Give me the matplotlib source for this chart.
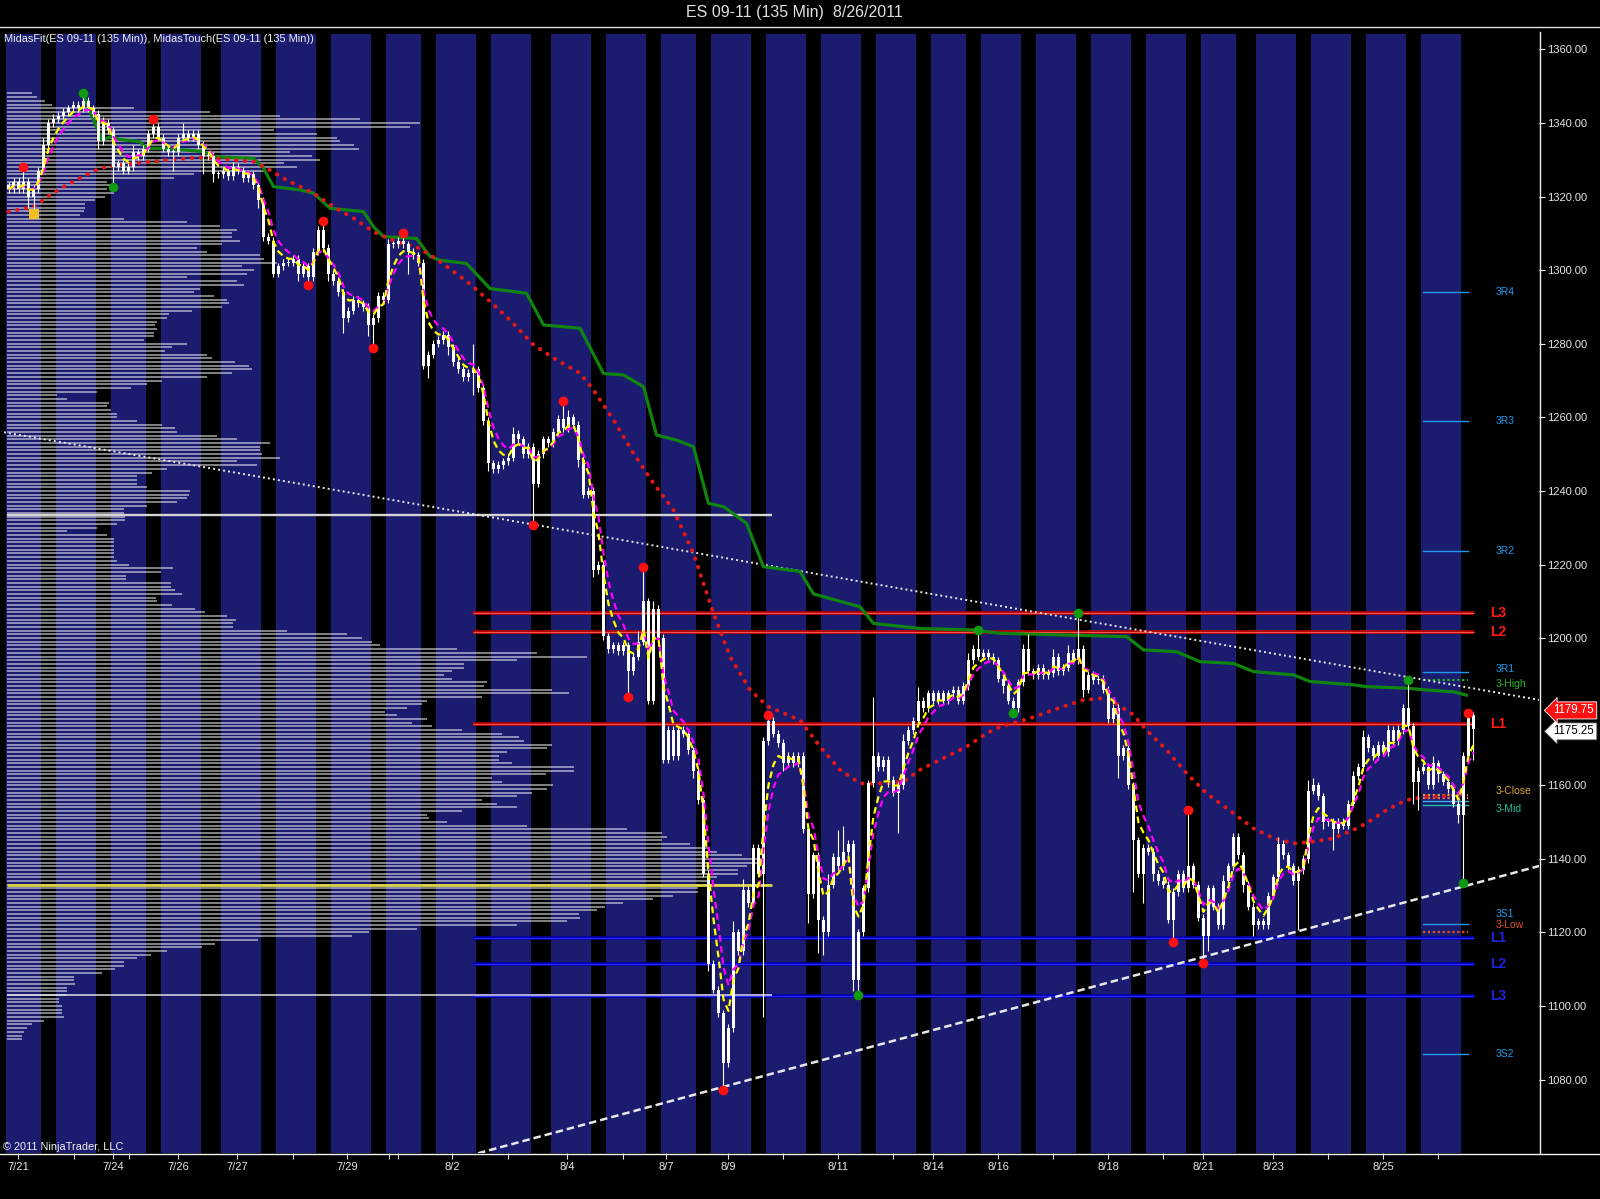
import numpy as np
import pandas as pd
import matplotlib
matplotlib.use("Agg")
import matplotlib.pyplot as plt
from matplotlib.lines import Line2D

plt.rcParams['font.family'] = ['Liberation Sans', 'DejaVu Sans']

# ---------------- data ----------------
title = "ES 09-11 (135 Min)  8/26/2011"
indicator_text = "MidasFit(ES 09-11 (135 Min)), MidasTouch(ES 09-11 (135 Min))"
copyright_text = "\u00a9 2011 NinjaTrader, LLC"

# 135 min bars, 7/21 .. 8/26
first_open = 1323
closes = [
    1322, 1324, 1322, 1324, 1320, 1322, 1327, 1334, 1340, 1341,
    1342, 1343, 1344, 1345, 1344, 1346, 1344, 1342.5, 1335, 1340,
    1338, 1328, 1329, 1327, 1328, 1332, 1331, 1333, 1337, 1339,
    1336, 1333, 1332, 1332, 1336, 1337, 1336, 1337, 1334, 1331,
    1331, 1326, 1326, 1327, 1325.5, 1328, 1327, 1325, 1326, 1323,
    1319, 1309, 1308, 1299, 1301, 1302, 1302, 1303, 1299, 1301,
    1298, 1305, 1311, 1306, 1299, 1297, 1294, 1287, 1289, 1292,
    1291, 1290, 1285, 1287, 1293, 1292, 1307, 1307, 1308, 1307,
    1305, 1304, 1302, 1274, 1277, 1280, 1281, 1282.5, 1279, 1275,
    1273, 1271, 1272, 1273, 1268, 1259, 1247.5, 1246, 1247, 1248,
    1249, 1255.5, 1254, 1250, 1252, 1242, 1250, 1254, 1253, 1256,
    1259.5, 1257, 1260, 1258, 1248.5, 1239, 1240, 1218.5, 1220, 1200.5,
    1197, 1198, 1196.5, 1198, 1191, 1195, 1199, 1210, 1183, 1208,
    1200, 1167, 1175, 1168, 1175, 1174, 1169.5, 1164, 1156, 1136,
    1111.5, 1104.5, 1098, 1084.5, 1094, 1120, 1115, 1131.5, 1128, 1143,
    1136, 1172, 1177.5, 1174, 1171.5, 1166, 1168, 1166, 1168, 1148,
    1130.5, 1141, 1123.5, 1120, 1133, 1140.5, 1138, 1142, 1144, 1107,
    1120, 1132, 1160.5, 1168, 1165, 1167, 1161.5, 1158, 1160, 1172,
    1175, 1177.5, 1183, 1181, 1185, 1183, 1185, 1183, 1185, 1186,
    1183, 1187, 1194, 1197, 1195, 1196, 1195, 1194, 1189, 1187,
    1183, 1181, 1188, 1197, 1191, 1190, 1192, 1190, 1190.5, 1195,
    1191, 1192, 1196, 1194, 1197, 1186, 1190, 1188.5, 1189, 1186,
    1178, 1181, 1168, 1170, 1160, 1145, 1136, 1143, 1142, 1136,
    1134, 1133, 1123.5, 1131, 1136, 1132, 1138, 1133, 1124, 1119,
    1132, 1127, 1122, 1134, 1138, 1146, 1141, 1133, 1127, 1122,
    1123, 1122, 1130, 1135, 1144, 1141, 1138, 1134, 1137, 1140,
    1158.5, 1160, 1157, 1150, 1150, 1148, 1150, 1149, 1155, 1162.5,
    1165, 1173, 1170, 1168, 1171, 1169, 1175, 1172, 1175, 1181,
    1176, 1161, 1164, 1165, 1160, 1166, 1163, 1161, 1159, 1155,
    1152, 1168, 1179, 1175.25,
]
# wick length above / below the candle body (points)
wick_up = [
    1, 1, 1, 4, 1, 1, 1, 2, 1, 1.5,
    1, 1, 1, 1, 1, 2, 1, 1, 1, 1.5,
    1, 1, 1, 1, 1, 2, 1, 1, 1, 2,
    1, 1, 1, 1, 1, 3, 1, 1, 1, 1,
    1, 1, 1, 1, 1, 1.5, 1, 1, 1, 1,
    1, 1, 1, 1, 1, 1, 1, 1, 1, 1,
    1, 1, 1, 2.4, 1, 1, 1, 1, 1, 1,
    1, 1, 1, 1, 1, 1, 1.5, 1, 1, 2.2,
    1, 1, 1, 1, 1, 1, 1, 1, 1, 1,
    1, 1, 1, 7, 1, 1, 1, 1, 1, 1,
    1, 2, 1, 1, 1, 1, 1, 1, 1, 1,
    1, 5, 2, 1, 1, 1, 1, 1, 1, 1,
    1, 1, 1, 1, 1, 1, 3, 9.2, 1, 2,
    1, 1, 1, 1, 1, 1, 1, 1, 1, 1,
    1, 1, 1, 1, 1, 3, 1, 3, 1, 1,
    1, 1, 1.6, 1, 1, 1, 1, 1, 1, 1,
    1, 1, 1, 1, 3, 1, 7.4, 7, 1, 1,
    1, 1, 1, 16, 1, 1, 1, 1, 1, 2,
    1, 1, 3.8, 1, 1, 1, 1, 1, 1, 1,
    1, 1, 2, 1, 5.2, 1, 1, 1, 1, 1,
    1, 1, 1, 1.5, 4, 1, 1, 1, 1, 2,
    1, 1, 2, 1, 9.9, 1, 1, 1, 1, 1,
    1, 1, 1, 1, 1, 1, 1, 1, 1, 1,
    1, 1, 1, 1, 1, 1, 15.3, 1, 1, 1,
    1, 1, 1, 1.5, 1, 1, 1, 1, 1, 1,
    1, 1, 1, 1, 2, 1, 1, 1, 1, 1,
    3, 2, 1, 1, 1, 1, 1, 1, 1, 1.5,
    1, 2, 1, 1, 1, 1, 1.5, 1, 1.5, 1,
    7.6, 1, 1, 1, 1, 2, 1, 1, 1, 1,
    1, 1, 0.75, 1,
]
wick_dn = [
    1, 1, 1, 1, 3, 4.8, 1, 1, 1, 1,
    1, 1, 1, 1, 1, 1, 1, 1, 2, 1,
    1, 5.5, 1, 1, 1, 1, 1, 1, 1, 1,
    1, 1, 1, 5, 1, 1, 1, 1, 1, 5,
    1, 2, 1, 1, 1, 1, 1, 1, 1, 1,
    2, 1, 1, 1, 1, 1, 1, 1, 2, 1,
    2, 1, 1, 1, 2, 1, 1, 4, 1, 1,
    1, 1, 3, 6.2, 1, 1, 1, 1, 1, 1,
    6, 1, 1, 1, 3.4, 1, 1, 1, 2, 1,
    1, 1, 1, 6, 1, 1, 2, 1, 1, 1,
    1, 1, 1, 1, 1, 11.3, 1, 1, 1, 1,
    1, 1, 1, 1, 2, 1, 1, 2, 1, 1,
    1, 1, 1, 1, 6.9, 1, 1, 1, 1, 1,
    1, 1, 1, 1, 1, 1, 1, 2, 1, 1,
    2, 1, 1, 7.3, 1, 1, 1, 1, 1, 1,
    1, 39, 1, 1, 1, 2, 1, 1, 1, 1,
    8, 1, 9.2, 6, 1, 1, 1, 1, 1, 3,
    4, 1, 1, 1, 1, 1, 2, 1, 11, 1,
    1, 1, 1, 1, 1, 1, 1, 1, 1, 1,
    1, 1, 1, 1, 1, 1, 1, 1, 1, 2,
    1, 1.4, 1, 1, 1, 1, 1, 1, 1, 1,
    1, 1, 1, 1, 1, 2, 1, 1, 1, 1,
    1, 1, 6, 1, 1, 14, 1, 8, 1, 2,
    1, 1, 1, 6, 1, 1, 1, 1, 1, 7.4,
    4, 1, 1, 1, 1, 1, 1, 2, 1, 3,
    1, 1, 1, 1, 1, 1, 1, 1, 13.3, 1,
    1, 1, 1, 2, 1, 5.6, 1, 1, 1, 1,
    1, 1, 1, 1, 1, 1, 1, 1, 1, 1,
    1, 6, 7.7, 1, 1, 1, 2, 1, 1, 1,
    2.3, 18.6, 1, 8.25,
]

# session shading: (first bar, first bar after)
session_bands = [
    (0, 7), (10, 18), (21, 28), (31, 39), (43, 51), (54, 62), (65, 73),
    (76, 83), (86, 94), (97, 105), (109, 117), (120, 128), (131, 138),
    (141, 149), (152, 160), (163, 171), (174, 182), (185, 192), (195, 203),
    (206, 214), (217, 225), (228, 236), (239, 246), (250, 258), (261, 269),
    (272, 280), (283, 291),
]

date_labels = ["7/21", "7/24", "7/26", "7/27", "7/29", "8/2", "8/4", "8/7",
               "8/9", "8/11", "8/14", "8/16", "8/18", "8/21", "8/23", "8/25"]
date_pos = [1.9, 20.9, 33.9, 45.8, 67.7, 88.8, 111.8, 131.5,
            143.9, 165.9, 184.9, 198, 219.9, 238.9, 252.9, 274.9]
minor_pos = [13.1, 24.1, 56.9, 76.1, 77.9, 99.9, 122.9, 155, 177, 209,
             230.9, 263.9, 285.9]

price_ticks = [1080, 1100, 1120, 1140, 1160, 1200, 1220, 1240, 1260,
               1280, 1300, 1320, 1340, 1360]

# volume profile, one row per point from 1348 down to 1091
profile_top = 1348
profile_vol = [
    25, 30, 38, 45, 127, 203, 273, 353, 413, 403,
    267, 310, 330, 333, 347, 352, 283, 305, 313, 277,
    290, 257, 187, 167, 100, 107, 100, 107, 98, 88,
    78, 78, 77, 73, 117, 180, 213, 230, 225, 225,
    233, 215, 190, 200, 253, 257, 270, 235, 247, 240,
    180, 230, 237, 193, 187, 207, 220, 222, 215, 185,
    162, 160, 150, 148, 150, 147, 147, 137, 180, 165,
    158, 200, 205, 228, 242, 245, 225, 200, 155, 140,
    124, 90, 50, 60, 102, 100, 104, 110, 110, 130,
    155, 168, 170, 210, 230, 263, 253, 253, 255, 273,
    230, 250, 160, 145, 130, 130, 130, 140, 183, 182,
    180, 170, 140, 117, 117, 118, 118, 110, 90, 60,
    100, 107, 107, 107, 107, 107, 107, 110, 122, 166,
    154, 119, 119, 164, 164, 168, 175, 149, 150, 165,
    188, 198, 220, 229, 226, 226, 280, 340, 355, 365,
    373, 450, 530, 580, 510, 457, 457, 445, 437, 445,
    480, 477, 545, 562, 475, 420, 415, 400, 378, 390,
    420, 405, 425, 455, 495, 512, 517, 545, 540, 500,
    492, 492, 505, 567, 567, 539, 485, 495, 546, 540,
    525, 510, 475, 490, 510, 455, 420, 422, 440, 520,
    620, 655, 660, 655, 683, 701, 710, 735, 755, 750,
    740, 731, 731, 710, 700, 765, 691, 691, 666, 646,
    616, 598, 590, 572, 573, 560, 510, 410, 362, 345,
    251, 208, 195, 160, 144, 130, 117, 117, 108, 95,
    67, 67, 68, 60, 60, 60, 52, 52, 55, 55,
    55, 57, 37, 25, 20, 17, 15, 15,
]
value_high = 1233.5
poc_price = 1133
value_low = 1103

red_levels = [1206.7, 1201.6, 1176.7]
red_names = ["L3", "L2", "L1"]
blue_levels = [1118.4, 1111.4, 1102.8]
blue_names = ["L1", "L2", "L3"]

pivot_names = ["3R4", "3R3", "3R2", "3R1", "3-High", "3-Close", "3-Open",
               "3PP", "3-Mid", "3S1", "3-Low", "3S2"]
pivot_levels = [1294.0, 1258.9, 1223.7, 1190.7, 1188.5, 1157.4, 1156.5,
                1155.6, 1154.7, 1122.3, 1120.2, 1087.0]
pivot_colors = ['#1e9bf0', '#1e9bf0', '#1e9bf0', '#1e9bf0', '#22b822',
                '#d8a830', '#e8805a', '#3ab4e8', '#20c0a0', '#1e9bf0',
                '#e0502a', '#1e9bf0']
pivot_styles = ['-', '-', '-', '-', ':', ':', ':', '-', '-', '-', ':', '-']
# label nudge (points) for crowded pivots; None = no label drawn
pivot_label_shift = [0, 0, 0, 0.9, -0.9, 1.1, None, None, -1.1, 2.8, 1.8, 0]

# Midas resistance (from the 7/22 high) and support curves
res_x = [15, 15.9, 18.7, 20.6, 22.3, 26.3, 27.6, 29.6, 35.6, 39,
         41, 49, 51, 53, 58.3, 61, 64.3, 71, 73, 75,
         81.6, 84.3, 86.3, 91.6, 96.3, 103.6, 107, 114.3, 119, 123,
         127, 129.6, 133.6, 137, 140, 143, 147.6, 151, 158.3, 161,
         170.3, 173, 182.3, 193, 198.3, 223.6, 227, 233.6, 238.3, 245,
         249, 257, 260.3, 269, 271.6, 279.6, 283.6, 289, 291.6]
res_y = [1348, 1344.4, 1335.4, 1336.3, 1335.5, 1334.9, 1333.1, 1333.1, 1332.6, 1332.2,
         1330.8, 1330.4, 1327.7, 1322.7, 1321.8, 1320.9, 1316.8, 1315.9, 1311.8, 1309.1,
         1308.6, 1303.7, 1302.7, 1301.8, 1295, 1293.7, 1285.1, 1284.2, 1271.9, 1271.5,
         1268.3, 1255.2, 1253.8, 1252, 1236.6, 1235.7, 1231.2, 1219.4, 1218.1, 1212,
         1208.5, 1204, 1202.6, 1202.2, 1201.3, 1200.4, 1196.8, 1196.3, 1193.6, 1193.1,
         1190.9, 1190, 1188.2, 1187.3, 1186.8, 1186.4, 1185.9, 1185.4, 1184.5]
sup_x = [0, 5, 8.3, 11.6, 15.6, 18.3, 21, 25, 31.6, 38.3,
         41, 45, 49, 51.6, 55.6, 61, 65, 69, 73, 78,
         82, 85.6, 91.6, 96.3, 100.3, 105, 109.6, 114.3, 117, 121,
         125, 129, 133, 137, 141, 144.3, 148.3, 151.9, 158.3, 162.3,
         166.3, 170.3, 175.6, 179, 182.3, 186.3, 191.6, 195.6, 198.3, 204.3,
         209, 215, 218.3, 221, 225, 227.6, 231.6, 235.6, 239.6, 245,
         249, 253, 257, 261, 265, 269, 271.6, 275.6, 279.6, 283.6,
         286.3, 291.6]
sup_y = [1315.9, 1317.2, 1320.4, 1323.1, 1325.9, 1327.7, 1328.3, 1329, 1329.9, 1330.6,
         1330.4, 1329.9, 1329.5, 1327.7, 1324.5, 1320.9, 1317.2, 1314.1, 1310.4, 1307.5,
         1306, 1303, 1297, 1291.5, 1286.4, 1279.7, 1275.6, 1272, 1267.4, 1259.3,
         1250.2, 1242.1, 1234.8, 1223, 1206.7, 1195, 1185.9, 1181.4, 1177.7, 1170.5,
         1164.2, 1160.5, 1160.5, 1161, 1164.2, 1166.9, 1170.5, 1174.1, 1175.9, 1178.2,
         1180.5, 1183.2, 1183.6, 1182.7, 1179.1, 1175, 1169.6, 1163.3, 1157.8, 1152.4,
         1148.3, 1145.6, 1144.2, 1144.7, 1145.6, 1147.9, 1149.7, 1153.3, 1156, 1156.9,
         1156.9, 1157.8]

# swing markers
red_swing_x = [3, 29, 60, 63, 73, 79, 105, 111, 124, 127, 143, 152, 233, 236, 239, 292]
red_swing_y = [1328, 1341, 1296, 1313.4, 1278.8, 1310.2, 1230.7, 1264.5, 1184.1,
               1219.2, 1077.2, 1179.1, 1117.5, 1153.3, 1111.6, 1179.75]
green_swing_x = [15, 21, 170, 194, 201, 214, 280, 291]
green_swing_y = [1348, 1322.5, 1103, 1202.2, 1179.6, 1206.9, 1188.6, 1133.4]
yellow_swing_x = [5]
yellow_swing_y = [1315.2]

# trend lines (bar, price)
upper_trend_x = [-2, 307]
upper_trend_y = [1256.2, 1183.0]
lower_trend_x = [93.9, 307]
lower_trend_y = [1060.0, 1138.4]

high_tag = 1179.75
last_price = 1175.25

# ---------------- build ----------------
close = np.array(closes, dtype=float)
opens = np.r_[first_open, close[:-1]]
body_top = np.maximum(opens, close)
body_bot = np.minimum(opens, close)
highs = body_top + np.array(wick_up)
lows = body_bot - np.array(wick_dn)
bars = np.arange(len(close))

fast_fit = pd.Series(close).ewm(alpha=0.4, adjust=False).mean()
slow_fit = pd.Series(close).ewm(alpha=0.3, adjust=False).mean()

W, H = 1600, 1199
fig = plt.figure(figsize=(W / 100, H / 100), dpi=100, facecolor='black')
ax = fig.add_axes([3 / W, 1 - 1153 / H, 1536 / W, 1119 / H])
ax.set_facecolor('black')
ax.set_xlim(-1.1, 306.1)
ax.set_ylim(1060.08, 1364.16)
for s in ax.spines.values():
    s.set_visible(False)

for s, e in session_bands:
    ax.axvspan(s - 0.5, e - 0.5, color='#1b1b70', lw=0, zorder=0)

prof_prices = profile_top - np.arange(len(profile_vol))
ax.hlines(prof_prices, -0.3, -0.3 + np.array(profile_vol) / 5.0,
          colors=[(1, 1, 1, 0.55)], lw=1.3, zorder=1)

# L lines
for lvl, name in zip(blue_levels, blue_names):
    ax.hlines(lvl, 93, 293.1, color='#0000b0', lw=2.6, zorder=2)
    ax.hlines(lvl, 93, 293.1, color='#2a2aff', lw=0.8, zorder=2.1)
    ax.text(296.3, lvl, name, color='#2222dd', fontsize=10, fontweight='bold',
            va='center', ha='left')
for lvl, name in zip(red_levels, red_names):
    ax.hlines(lvl, 93, 293.1, color='#b80000', lw=2.6, zorder=2)
    ax.hlines(lvl, 93, 293.1, color='#ff5050', lw=0.8, zorder=2.1)
    ax.text(296.3, lvl, name, color='#ff1a1a', fontsize=10, fontweight='bold',
            va='center', ha='left')

ax.hlines(value_high, -0.3, 152.7, color='#d4d4d4', lw=1.7, zorder=2.2)
ax.hlines(poc_price, -0.3, 152.7, color='#dcd444', lw=2.0, zorder=2.2)
ax.hlines(value_low, -0.3, 152.7, color=(0.9, 0.9, 0.9, 0.75), lw=1.4, zorder=2.2)

# pivots
for name, lvl, col, ls, sh in zip(pivot_names, pivot_levels, pivot_colors,
                                  pivot_styles, pivot_label_shift):
    ax.plot([282.9, 291.9], [lvl, lvl], color=col, lw=1.0 if ls == '-' else 1.6,
            ls='-' if ls == '-' else (0, (1, 1.2)), zorder=2.3)
    if sh is not None:
        ax.text(297.5, lvl + sh, name, color=col, fontsize=7.5, va='center', ha='left')

# trend lines
ax.plot(upper_trend_x, upper_trend_y, color='#e8e8e8', lw=1.4,
        ls=(0, (1, 1.6)), zorder=2.5)
ax.plot(lower_trend_x, lower_trend_y, color='#e8e8e8', lw=1.8,
        ls=(0, (3, 1.6)), zorder=2.5)

# Midas curves
ax.plot(res_x, res_y, color='#0f850f', lw=2.3, zorder=3, solid_joinstyle='round')
ax.plot(sup_x, sup_y, color='#e01818', lw=2.9, ls=(0, (0.1, 2.1)),
        dash_capstyle='round', zorder=3)

# candles
ax.vlines(bars, lows, highs, color='white', lw=0.8, zorder=4)
ax.bar(bars, np.maximum(body_top - body_bot, 0.3), bottom=body_bot, width=0.65,
       color='white', lw=0, zorder=4)

ax.plot(bars, slow_fit, color='#ff00ff', lw=1.6, ls=(0, (3, 2)), zorder=5)
ax.plot(bars, fast_fit, color='#ffff00', lw=1.6, ls=(0, (3, 2)), zorder=5.1)

ax.plot(red_swing_x, red_swing_y, 'o', color='#ff1010', ms=7, mew=0, zorder=6)
ax.plot(green_swing_x, green_swing_y, 'o', color='#0f9a0f', ms=7, mew=0, zorder=6)
ax.plot(yellow_swing_x, yellow_swing_y, 's', color='#f0c020', ms=6.5, mew=0, zorder=6)

# axes ticks
ax.yaxis.tick_right()
ax.set_yticks(price_ticks)
ax.set_yticklabels([f"{p:.2f}" for p in price_ticks])
ax.tick_params(axis='y', colors='#e6e6e6', labelsize=8, length=4.3,
               width=0.8, pad=1.5, direction='out')
ax.set_xticks(date_pos)
ax.set_xticklabels(date_labels)
ax.set_xticks(minor_pos, minor=True)
ax.tick_params(axis='x', which='both', colors='#e6e6e6', labelsize=8,
               length=4.3, width=0.8, pad=2, direction='out')

tr = ax.get_yaxis_transform()
ax.text(1.0095, high_tag + 0.6, f"{high_tag:.2f}", transform=tr, color='white',
        fontsize=8.3, va='center', ha='left', clip_on=False, zorder=10,
        bbox=dict(boxstyle='larrow,pad=0.22', fc='#ff1010', ec='white', lw=0.6))
ax.text(1.0095, last_price - 0.6, f"{last_price:.2f}", transform=tr, color='black',
        fontsize=8.3, va='center', ha='left', clip_on=False, zorder=9,
        bbox=dict(boxstyle='larrow,pad=0.22', fc='white', ec='#404040', lw=0.6))

# frame lines
fig.add_artist(Line2D([0, 1], [1 - 27 / H] * 2, color='#e0e0e0', lw=1.0))
fig.add_artist(Line2D([1539.5 / W] * 2, [1 - 32 / H, 1 - 1153 / H], color='#f0f0f0', lw=1.0))
fig.add_artist(Line2D([0, 1], [1 - 1153.5 / H] * 2, color='#f0f0f0', lw=1.0))

fig.text(794 / W, 1 - 13 / H, title, color='#e0e0e0', fontsize=11.5, ha='center', va='center')
fig.text(4 / W, 1 - 39 / H, indicator_text, color='#f0f0f0', fontsize=7.9, ha='left', va='center')
fig.text(3 / W, 1 - 1147 / H, copyright_text, color='#f0f0f0', fontsize=7.9, ha='left', va='center')

fig.savefig('out.png', dpi=100, facecolor='black')
